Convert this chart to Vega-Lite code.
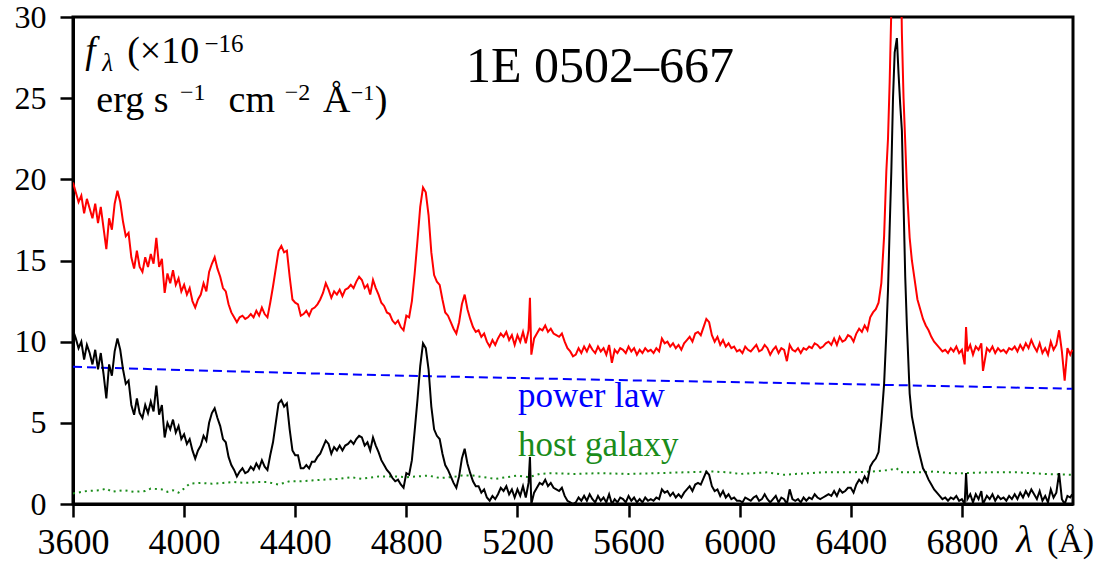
{
  "$schema": "https://vega.github.io/schema/vega-lite/v6.json",
  "width": 1000,
  "height": 487,
  "autosize": {"type": "none"},
  "padding": {"left": 73, "top": 17, "right": 32, "bottom": 61},
  "background": "white",
  "config": {
    "view": {"stroke": "black", "strokeWidth": 3},
    "text": {"font": "Liberation Serif", "color": "black"}
  },
  "datasets": {
    "spec": [
      {"w":3600,"red":19.8,"black":10.7},{"w":3610,"red":19.2,"black":10.2},{"w":3620,"red":18.6,"black":9.6},{"w":3630,"red":19.0,"black":10.0},
      {"w":3640,"red":17.9,"black":8.9},{"w":3650,"red":18.8,"black":9.8},{"w":3660,"red":18.2,"black":9.3},{"w":3670,"red":17.6,"black":8.6},
      {"w":3680,"red":18.5,"black":9.5},{"w":3690,"red":17.3,"black":8.3},{"w":3700,"red":18.3,"black":9.3},{"w":3710,"red":17.0,"black":8.0},
      {"w":3720,"red":15.7,"black":6.5},{"w":3730,"red":17.6,"black":8.6},{"w":3740,"red":16.9,"black":7.9},{"w":3750,"red":18.5,"black":9.4},
      {"w":3760,"red":19.3,"black":10.2},{"w":3770,"red":18.6,"black":9.5},{"w":3780,"red":17.4,"black":8.3},{"w":3790,"red":16.5,"black":7.4},
      {"w":3800,"red":16.7,"black":7.6},{"w":3810,"red":15.2,"black":6.1},{"w":3820,"red":14.5,"black":5.5},{"w":3830,"red":15.6,"black":6.5},
      {"w":3840,"red":14.6,"black":5.6},{"w":3850,"red":14.3,"black":5.3},{"w":3860,"red":15.2,"black":6.1},{"w":3870,"red":14.6,"black":5.6},
      {"w":3880,"red":15.4,"black":6.3},{"w":3890,"red":14.8,"black":5.7},{"w":3900,"red":16.4,"black":7.3},{"w":3910,"red":14.6,"black":5.5},
      {"w":3920,"red":15.1,"black":6.1},{"w":3930,"red":13.0,"black":4.1},{"w":3940,"red":14.2,"black":5.0},{"w":3950,"red":13.6,"black":4.6},
      {"w":3960,"red":14.4,"black":5.2},{"w":3970,"red":13.5,"black":4.4},{"w":3980,"red":13.9,"black":4.8},{"w":3990,"red":13.1,"black":4.0},
      {"w":4000,"red":13.5,"black":4.3},{"w":4010,"red":12.9,"black":3.7},{"w":4020,"red":13.3,"black":4.0},{"w":4030,"red":12.5,"black":3.3},
      {"w":4040,"red":12.1,"black":2.8},{"w":4050,"red":12.6,"black":3.3},{"w":4060,"red":12.9,"black":3.6},{"w":4070,"red":13.6,"black":4.2},
      {"w":4080,"red":13.1,"black":3.9},{"w":4090,"red":14.3,"black":5.0},{"w":4100,"red":14.8,"black":5.6},{"w":4110,"red":15.2,"black":5.9},
      {"w":4120,"red":14.5,"black":5.3},{"w":4130,"red":14.0,"black":4.8},{"w":4140,"red":13.3,"black":4.0},{"w":4150,"red":13.1,"black":3.8},
      {"w":4160,"red":12.3,"black":2.9},{"w":4170,"red":11.8,"black":2.4},{"w":4180,"red":11.5,"black":2.1},{"w":4190,"red":11.2,"black":1.7},
      {"w":4200,"red":11.5,"black":2.0},{"w":4210,"red":11.6,"black":2.2},{"w":4220,"red":11.4,"black":1.9},{"w":4230,"red":11.5,"black":2.0},
      {"w":4240,"red":11.7,"black":2.3},{"w":4250,"red":11.5,"black":2.1},{"w":4260,"red":11.9,"black":2.5},{"w":4270,"red":11.6,"black":2.2},
      {"w":4280,"red":12.1,"black":2.7},{"w":4290,"red":11.7,"black":2.3},{"w":4300,"red":11.5,"black":2.1},{"w":4310,"red":12.4,"black":3.0},
      {"w":4320,"red":13.4,"black":3.8},{"w":4330,"red":14.5,"black":5.0},{"w":4340,"red":15.6,"black":6.2},{"w":4350,"red":15.9,"black":6.4},
      {"w":4360,"red":15.5,"black":6.0},{"w":4370,"red":15.6,"black":6.2},{"w":4380,"red":14.0,"black":4.6},{"w":4390,"red":12.6,"black":3.3},
      {"w":4400,"red":12.4,"black":3.0},{"w":4410,"red":12.3,"black":3.0},{"w":4420,"red":11.6,"black":2.2},{"w":4430,"red":11.7,"black":2.2},
      {"w":4440,"red":11.9,"black":2.4},{"w":4450,"red":11.6,"black":2.2},{"w":4460,"red":12.0,"black":2.6},{"w":4470,"red":12.1,"black":2.6},
      {"w":4480,"red":12.3,"black":2.9},{"w":4490,"red":12.6,"black":3.1},{"w":4500,"red":13.0,"black":3.5},{"w":4510,"red":13.6,"black":3.9},
      {"w":4520,"red":13.2,"black":3.7},{"w":4530,"red":12.7,"black":3.1},{"w":4540,"red":13.1,"black":3.5},{"w":4550,"red":12.9,"black":3.3},
      {"w":4560,"red":13.2,"black":3.6},{"w":4570,"red":12.8,"black":3.3},{"w":4580,"red":13.2,"black":3.6},{"w":4590,"red":13.3,"black":3.7},
      {"w":4600,"red":13.5,"black":3.9},{"w":4610,"red":13.3,"black":3.7},{"w":4620,"red":13.7,"black":4.0},{"w":4630,"red":14.0,"black":4.2},
      {"w":4640,"red":13.8,"black":4.1},{"w":4650,"red":13.3,"black":3.6},{"w":4660,"red":13.5,"black":3.8},{"w":4670,"red":12.9,"black":3.3},
      {"w":4680,"red":13.8,"black":4.1},{"w":4690,"red":13.3,"black":3.6},{"w":4700,"red":12.9,"black":3.2},{"w":4710,"red":12.4,"black":2.7},
      {"w":4720,"red":12.2,"black":2.4},{"w":4730,"red":11.8,"black":2.1},{"w":4740,"red":11.7,"black":1.9},{"w":4750,"red":11.3,"black":1.6},
      {"w":4760,"red":11.1,"black":1.4},{"w":4770,"red":11.3,"black":1.5},{"w":4780,"red":10.9,"black":1.2},{"w":4790,"red":10.7,"black":1.0},
      {"w":4800,"red":11.6,"black":1.9},{"w":4810,"red":11.5,"black":1.8},{"w":4820,"red":12.5,"black":2.7},{"w":4830,"red":14.2,"black":4.5},
      {"w":4840,"red":16.2,"black":6.4},{"w":4850,"red":18.3,"black":8.5},{"w":4860,"red":19.5,"black":9.9},{"w":4870,"red":19.2,"black":9.6},
      {"w":4880,"red":17.8,"black":8.3},{"w":4890,"red":15.5,"black":6.0},{"w":4900,"red":14.1,"black":4.6},{"w":4910,"red":13.7,"black":4.2},
      {"w":4920,"red":13.5,"black":4.0},{"w":4930,"red":12.6,"black":3.1},{"w":4940,"red":11.8,"black":2.4},{"w":4950,"red":11.6,"black":2.1},
      {"w":4960,"red":11.2,"black":1.7},{"w":4970,"red":10.8,"black":1.3},{"w":4980,"red":10.5,"black":1.0},{"w":4990,"red":11.2,"black":1.7},
      {"w":5000,"red":12.3,"black":2.8},{"w":5010,"red":12.9,"black":3.4},{"w":5020,"red":12.0,"black":2.5},{"w":5030,"red":11.4,"black":1.9},
      {"w":5040,"red":10.9,"black":1.4},{"w":5050,"red":10.6,"black":1.1},{"w":5060,"red":10.7,"black":1.1},{"w":5070,"red":10.3,"black":0.7},
      {"w":5080,"red":10.5,"black":0.9},{"w":5090,"red":10.0,"black":0.4},{"w":5100,"red":9.7,"black":0.2},{"w":5110,"red":10.1,"black":0.5},
      {"w":5120,"red":9.8,"black":0.3},{"w":5130,"red":10.2,"black":0.6},{"w":5140,"red":10.5,"black":1.0},{"w":5150,"red":10.3,"black":0.8},
      {"w":5160,"red":10.6,"black":1.1},{"w":5170,"red":10.1,"black":0.6},{"w":5180,"red":10.4,"black":0.9},{"w":5190,"red":9.8,"black":0.4},
      {"w":5200,"red":10.4,"black":0.9},{"w":5210,"red":10.0,"black":0.5},{"w":5220,"red":10.6,"black":1.1},{"w":5230,"red":9.9,"black":0.4},
      {"w":5240,"red":10.7,"black":1.3},{"w":5245,"red":12.7,"black":2.9},{"w":5250,"red":9.2,"black":0.0},{"w":5260,"red":10.2,"black":0.7},
      {"w":5270,"red":10.5,"black":1.0},{"w":5280,"red":10.8,"black":1.3},{"w":5290,"red":10.7,"black":1.2},{"w":5300,"red":11.0,"black":1.5},
      {"w":5310,"red":10.6,"black":1.1},{"w":5320,"red":10.8,"black":1.3},{"w":5330,"red":10.5,"black":1.0},{"w":5340,"red":10.4,"black":0.9},
      {"w":5350,"red":10.3,"black":0.8},{"w":5360,"red":10.5,"black":1.0},{"w":5370,"red":10.0,"black":0.5},{"w":5380,"red":9.6,"black":0.2},
      {"w":5390,"red":9.4,"black":0.1},{"w":5400,"red":9.1,"black":0.0},{"w":5410,"red":9.2,"black":0.1},{"w":5420,"red":9.6,"black":0.4},
      {"w":5430,"red":9.3,"black":0.2},{"w":5440,"red":9.7,"black":0.5},{"w":5450,"red":9.4,"black":0.2},{"w":5460,"red":9.8,"black":0.6},
      {"w":5470,"red":9.5,"black":0.3},{"w":5480,"red":9.3,"black":0.1},{"w":5490,"red":9.7,"black":0.5},{"w":5500,"red":9.4,"black":0.2},
      {"w":5510,"red":9.6,"black":0.4},{"w":5520,"red":9.2,"black":0.1},{"w":5530,"red":9.8,"black":0.6},{"w":5540,"red":8.7,"black":0.0},
      {"w":5550,"red":9.5,"black":0.3},{"w":5560,"red":9.3,"black":0.1},{"w":5570,"red":9.6,"black":0.4},{"w":5580,"red":9.5,"black":0.3},
      {"w":5590,"red":9.3,"black":0.1},{"w":5600,"red":9.7,"black":0.5},{"w":5610,"red":9.4,"black":0.2},{"w":5620,"red":9.6,"black":0.4},
      {"w":5630,"red":9.2,"black":0.1},{"w":5640,"red":9.5,"black":0.3},{"w":5650,"red":9.3,"black":0.1},{"w":5660,"red":9.6,"black":0.4},
      {"w":5670,"red":9.4,"black":0.2},{"w":5680,"red":9.5,"black":0.3},{"w":5690,"red":9.3,"black":0.2},{"w":5700,"red":9.6,"black":0.4},
      {"w":5710,"red":9.4,"black":0.3},{"w":5720,"red":10.2,"black":0.9},{"w":5730,"red":9.9,"black":0.7},{"w":5740,"red":10.0,"black":0.8},
      {"w":5750,"red":9.7,"black":0.5},{"w":5760,"red":9.9,"black":0.7},{"w":5770,"red":9.6,"black":0.4},{"w":5780,"red":9.8,"black":0.6},
      {"w":5790,"red":9.5,"black":0.4},{"w":5800,"red":9.9,"black":0.7},{"w":5810,"red":10.1,"black":0.9},{"w":5820,"red":10.3,"black":1.1},
      {"w":5830,"red":10.0,"black":0.8},{"w":5840,"red":10.5,"black":1.2},{"w":5850,"red":10.6,"black":1.3},{"w":5860,"red":10.4,"black":1.2},
      {"w":5870,"red":10.9,"black":1.6},{"w":5880,"red":11.4,"black":2.0},{"w":5890,"red":11.2,"black":1.8},{"w":5900,"red":10.4,"black":1.1},
      {"w":5910,"red":10.0,"black":0.8},{"w":5920,"red":10.3,"black":0.9},{"w":5930,"red":9.8,"black":0.5},{"w":5940,"red":10.1,"black":0.8},
      {"w":5950,"red":9.7,"black":0.4},{"w":5960,"red":9.9,"black":0.6},{"w":5970,"red":9.6,"black":0.3},{"w":5980,"red":9.7,"black":0.4},
      {"w":5990,"red":9.4,"black":0.2},{"w":6000,"red":9.5,"black":0.2},{"w":6010,"red":9.3,"black":0.1},{"w":6020,"red":9.7,"black":0.4},
      {"w":6030,"red":9.5,"black":0.3},{"w":6040,"red":9.4,"black":0.2},{"w":6050,"red":9.6,"black":0.4},{"w":6060,"red":9.8,"black":0.5},
      {"w":6070,"red":9.4,"black":0.2},{"w":6080,"red":9.5,"black":0.3},{"w":6090,"red":9.8,"black":0.6},{"w":6100,"red":9.6,"black":0.3},
      {"w":6110,"red":9.2,"black":0.1},{"w":6120,"red":9.5,"black":0.3},{"w":6130,"red":9.7,"black":0.5},{"w":6140,"red":9.3,"black":0.1},
      {"w":6150,"red":9.6,"black":0.4},{"w":6160,"red":9.5,"black":0.3},{"w":6170,"red":8.8,"black":0.0},{"w":6180,"red":9.8,"black":0.9},
      {"w":6190,"red":9.5,"black":0.3},{"w":6200,"red":9.4,"black":0.2},{"w":6210,"red":9.6,"black":0.3},{"w":6220,"red":9.3,"black":0.1},
      {"w":6230,"red":9.6,"black":0.4},{"w":6240,"red":9.5,"black":0.2},{"w":6250,"red":9.7,"black":0.4},{"w":6260,"red":9.6,"black":0.3},
      {"w":6270,"red":9.9,"black":0.6},{"w":6280,"red":9.8,"black":0.4},{"w":6290,"red":9.6,"black":0.3},{"w":6300,"red":9.7,"black":0.4},
      {"w":6310,"red":9.9,"black":0.5},{"w":6320,"red":10.0,"black":0.6},{"w":6330,"red":9.8,"black":0.5},{"w":6340,"red":10.2,"black":0.8},
      {"w":6350,"red":9.8,"black":0.5},{"w":6360,"red":10.3,"black":0.9},{"w":6370,"red":10.0,"black":0.7},{"w":6380,"red":10.1,"black":0.8},
      {"w":6390,"red":10.4,"black":1.0},{"w":6400,"red":10.3,"black":1.0},{"w":6410,"red":10.0,"black":0.7},{"w":6420,"red":10.5,"black":1.2},
      {"w":6430,"red":10.8,"black":1.5},{"w":6440,"red":10.6,"black":1.3},{"w":6450,"red":11.0,"black":1.7},{"w":6460,"red":10.7,"black":1.4},
      {"w":6470,"red":11.5,"black":2.3},{"w":6480,"red":11.8,"black":2.6},{"w":6490,"red":12.0,"black":2.8},{"w":6500,"red":12.4,"black":3.2},
      {"w":6510,"red":13.6,"black":5.1},{"w":6520,"red":16.5,"black":7.4},{"w":6528,"red":20.5,"black":10.5},{"w":6534,"red":22.5,"black":13.2},
      {"w":6540,"red":26.0,"black":17.0},{"w":6546,"red":30.5,"black":20.5},{"w":6552,"red":36.0,"black":25.0},{"w":6558,"red":42.0,"black":27.8},
      {"w":6566,"red":45.0,"black":28.7},{"w":6572,"red":42.0,"black":26.5},{"w":6578,"red":36.0,"black":24.6},{"w":6584,"red":29.0,"black":23.0},
      {"w":6590,"red":25.0,"black":18.5},{"w":6596,"red":22.3,"black":14.0},{"w":6602,"red":19.5,"black":11.0},{"w":6612,"red":16.4,"black":6.8},
      {"w":6620,"red":15.0,"black":5.4},{"w":6630,"red":13.8,"black":4.5},{"w":6640,"red":12.6,"black":3.6},{"w":6650,"red":12.0,"black":2.9},
      {"w":6660,"red":11.4,"black":2.2},{"w":6670,"red":11.0,"black":1.9},{"w":6680,"red":10.7,"black":1.5},{"w":6690,"red":10.3,"black":1.2},
      {"w":6700,"red":10.0,"black":0.9},{"w":6710,"red":9.8,"black":0.7},{"w":6720,"red":9.6,"black":0.5},{"w":6730,"red":9.4,"black":0.3},
      {"w":6740,"red":9.5,"black":0.4},{"w":6750,"red":9.3,"black":0.2},{"w":6760,"red":9.6,"black":0.4},{"w":6770,"red":9.4,"black":0.3},
      {"w":6780,"red":9.7,"black":0.5},{"w":6790,"red":9.3,"black":0.2},{"w":6800,"red":9.5,"black":0.3},{"w":6810,"red":8.6,"black":0.0},
      {"w":6815,"red":10.9,"black":1.9},{"w":6820,"red":9.4,"black":0.3},{"w":6830,"red":9.8,"black":0.6},{"w":6840,"red":9.2,"black":0.1},
      {"w":6850,"red":9.7,"black":0.6},{"w":6860,"red":9.5,"black":0.3},{"w":6870,"red":9.9,"black":0.8},{"w":6876,"red":8.2,"black":0.0},
      {"w":6890,"red":9.6,"black":0.5},{"w":6900,"red":9.4,"black":0.3},{"w":6910,"red":9.7,"black":0.6},{"w":6920,"red":9.3,"black":0.2},
      {"w":6930,"red":9.6,"black":0.5},{"w":6940,"red":9.4,"black":0.3},{"w":6950,"red":9.5,"black":0.4},{"w":6960,"red":9.3,"black":0.2},
      {"w":6970,"red":9.6,"black":0.5},{"w":6980,"red":9.5,"black":0.3},{"w":6990,"red":9.7,"black":0.6},{"w":7000,"red":9.4,"black":0.3},
      {"w":7010,"red":9.8,"black":0.7},{"w":7020,"red":9.5,"black":0.4},{"w":7030,"red":9.9,"black":0.8},{"w":7040,"red":9.6,"black":0.5},
      {"w":7050,"red":10.1,"black":0.9},{"w":7060,"red":9.7,"black":0.6},{"w":7070,"red":9.4,"black":0.3},{"w":7080,"red":9.9,"black":0.8},
      {"w":7090,"red":9.3,"black":0.2},{"w":7100,"red":9.6,"black":0.5},{"w":7110,"red":9.2,"black":0.1},{"w":7120,"red":10.0,"black":0.9},
      {"w":7130,"red":9.5,"black":0.4},{"w":7140,"red":9.8,"black":0.7},{"w":7150,"red":10.7,"black":1.9},{"w":7160,"red":9.4,"black":0.3},
      {"w":7170,"red":7.6,"black":0.0},{"w":7180,"red":9.6,"black":0.5},{"w":7190,"red":9.2,"black":0.4},{"w":7197,"red":9.5,"black":0.6}
    ],
    "pl": [
      {"w":3600,"f":8.45},{"w":4000,"f":8.25},{"w":4400,"f":8.07},{"w":4800,"f":7.9},{"w":5200,"f":7.76},
      {"w":5600,"f":7.62},{"w":6000,"f":7.5},{"w":6400,"f":7.38},{"w":6800,"f":7.24},{"w":7197,"f":7.1}
    ],
    "host": [
      {"w":3600,"f":0.65},{"w":3650,"f":0.8},{"w":3700,"f":0.85},{"w":3720,"f":0.95},{"w":3740,"f":0.75},{"w":3780,"f":0.85},
      {"w":3820,"f":0.75},{"w":3860,"f":0.8},{"w":3880,"f":0.95},{"w":3920,"f":0.9},{"w":3940,"f":0.75},{"w":3960,"f":0.85},
      {"w":3980,"f":0.7},{"w":4000,"f":0.95},{"w":4020,"f":1.25},{"w":4060,"f":1.3},{"w":4100,"f":1.25},{"w":4140,"f":1.3},
      {"w":4180,"f":1.35},{"w":4220,"f":1.3},{"w":4260,"f":1.35},{"w":4300,"f":1.35},{"w":4340,"f":1.2},{"w":4380,"f":1.4},
      {"w":4420,"f":1.4},{"w":4460,"f":1.45},{"w":4500,"f":1.5},{"w":4560,"f":1.55},{"w":4600,"f":1.65},{"w":4640,"f":1.55},
      {"w":4700,"f":1.7},{"w":4760,"f":1.7},{"w":4800,"f":1.65},{"w":4840,"f":1.7},{"w":4880,"f":1.75},{"w":4920,"f":1.6},
      {"w":4960,"f":1.65},{"w":5000,"f":1.75},{"w":5040,"f":1.75},{"w":5080,"f":1.65},{"w":5120,"f":1.55},{"w":5160,"f":1.65},
      {"w":5200,"f":1.75},{"w":5240,"f":1.65},{"w":5280,"f":1.85},{"w":5320,"f":1.9},{"w":5400,"f":1.85},{"w":5500,"f":1.9},
      {"w":5600,"f":1.85},{"w":5700,"f":1.9},{"w":5800,"f":1.95},{"w":5900,"f":2.0},{"w":5960,"f":1.95},{"w":6000,"f":1.85},
      {"w":6100,"f":1.95},{"w":6160,"f":1.8},{"w":6200,"f":1.85},{"w":6300,"f":1.95},{"w":6400,"f":1.95},{"w":6480,"f":2.0},
      {"w":6540,"f":2.1},{"w":6565,"f":2.2},{"w":6580,"f":1.95},{"w":6640,"f":1.95},{"w":6700,"f":2.0},{"w":6760,"f":1.9},
      {"w":6800,"f":1.9},{"w":6900,"f":1.95},{"w":7000,"f":1.95},{"w":7100,"f":1.85},{"w":7197,"f":1.8}
    ]
  },
  "layer": [
    {
      "data": {"name": "host"},
      "mark": {"type": "line", "color": "#1a8c1a", "strokeWidth": 2, "strokeDash": [2, 4], "clip": true},
      "encoding": {
        "x": {"field": "w", "type": "quantitative", "title": null,
          "scale": {"domain": [3600, 7200], "nice": false, "zero": false},
          "axis": {"values": [3600, 4000, 4400, 4800, 5200, 5600, 6000, 6400, 6800], "format": "d", "grid": false,
            "domainColor": "black", "domainWidth": 3, "tickColor": "black", "tickWidth": 2.5, "tickSize": 13,
            "labelFont": "Liberation Serif", "labelFontSize": 36, "labelColor": "black", "labelPadding": 8, "labelFlush": false, "labelOverlap": false}},
        "y": {"field": "f", "type": "quantitative", "title": null,
          "scale": {"domain": [0, 30], "nice": false},
          "axis": {"values": [0, 5, 10, 15, 20, 25, 30], "format": "d", "grid": false,
            "domainColor": "black", "domainWidth": 3, "tickColor": "black", "tickWidth": 2.5, "tickSize": 13,
            "labelFont": "Liberation Serif", "labelFontSize": 32, "labelColor": "black", "labelPadding": 14, "labelFlush": false, "labelOverlap": false}}
      }
    },
    {
      "data": {"name": "pl"},
      "mark": {"type": "line", "color": "#0000ff", "strokeWidth": 2, "strokeDash": [9, 5], "clip": true},
      "encoding": {
        "x": {"field": "w", "type": "quantitative", "title": null},
        "y": {"field": "f", "type": "quantitative", "title": null}
      }
    },
    {
      "data": {"name": "spec"},
      "mark": {"type": "line", "color": "#ff0000", "strokeWidth": 2, "clip": true},
      "encoding": {
        "x": {"field": "w", "type": "quantitative", "title": null},
        "y": {"field": "red", "type": "quantitative", "title": null}
      }
    },
    {
      "data": {"name": "spec"},
      "mark": {"type": "line", "color": "#000000", "strokeWidth": 2, "clip": true},
      "encoding": {
        "x": {"field": "w", "type": "quantitative", "title": null},
        "y": {"field": "black", "type": "quantitative", "title": null}
      }
    },
    {"data": {"values": [{}]}, "mark": {"type": "text", "fontSize": 50, "align": "center", "baseline": "alphabetic"},
      "encoding": {"x": {"datum": 5497}, "y": {"datum": 25.97}, "text": {"value": "1E 0502–667"}}},
    {"data": {"values": [{}]}, "mark": {"type": "text", "fontSize": 37, "fontStyle": "italic", "align": "left", "baseline": "alphabetic"},
      "encoding": {"x": {"datum": 3644}, "y": {"datum": 27.15}, "text": {"value": "f"}}},
    {"data": {"values": [{}]}, "mark": {"type": "text", "fontSize": 25, "fontStyle": "italic", "align": "left", "baseline": "alphabetic"},
      "encoding": {"x": {"datum": 3705}, "y": {"datum": 26.65}, "text": {"value": "λ"}}},
    {"data": {"values": [{}]}, "mark": {"type": "text", "fontSize": 38, "align": "left", "baseline": "alphabetic"},
      "encoding": {"x": {"datum": 3795}, "y": {"datum": 27.15}, "text": {"value": "(×10"}}},
    {"data": {"values": [{}]}, "mark": {"type": "text", "fontSize": 25, "align": "left", "baseline": "alphabetic"},
      "encoding": {"x": {"datum": 4073}, "y": {"datum": 27.84}, "text": {"value": "−16"}}},
    {"data": {"values": [{}]}, "mark": {"type": "text", "fontSize": 38, "align": "left", "baseline": "alphabetic"},
      "encoding": {"x": {"datum": 3684}, "y": {"datum": 24.16}, "text": {"value": "erg s"}}},
    {"data": {"values": [{}]}, "mark": {"type": "text", "fontSize": 24, "align": "left", "baseline": "alphabetic"},
      "encoding": {"x": {"datum": 3985}, "y": {"datum": 24.86}, "text": {"value": "−1"}}},
    {"data": {"values": [{}]}, "mark": {"type": "text", "fontSize": 38, "align": "left", "baseline": "alphabetic"},
      "encoding": {"x": {"datum": 4160}, "y": {"datum": 24.16}, "text": {"value": "cm"}}},
    {"data": {"values": [{}]}, "mark": {"type": "text", "fontSize": 24, "align": "left", "baseline": "alphabetic"},
      "encoding": {"x": {"datum": 4362}, "y": {"datum": 24.86}, "text": {"value": "−2"}}},
    {"data": {"values": [{}]}, "mark": {"type": "text", "fontSize": 38, "align": "left", "baseline": "alphabetic"},
      "encoding": {"x": {"datum": 4500}, "y": {"datum": 24.16}, "text": {"value": "Å"}}},
    {"data": {"values": [{}]}, "mark": {"type": "text", "fontSize": 22, "align": "left", "baseline": "alphabetic"},
      "encoding": {"x": {"datum": 4600}, "y": {"datum": 24.86}, "text": {"value": "−1"}}},
    {"data": {"values": [{}]}, "mark": {"type": "text", "fontSize": 38, "align": "left", "baseline": "alphabetic"},
      "encoding": {"x": {"datum": 4686}, "y": {"datum": 24.16}, "text": {"value": ")"}}},
    {"data": {"values": [{}]}, "mark": {"type": "text", "fontSize": 35, "align": "left", "baseline": "alphabetic", "color": "#0000ff"},
      "encoding": {"x": {"datum": 5202}, "y": {"datum": 6.0}, "text": {"value": "power law"}}},
    {"data": {"values": [{}]}, "mark": {"type": "text", "fontSize": 35, "align": "left", "baseline": "alphabetic", "color": "#1a8c1a"},
      "encoding": {"x": {"datum": 5202}, "y": {"datum": 2.98}, "text": {"value": "host galaxy"}}},
    {"data": {"values": [{}]}, "mark": {"type": "text", "fontSize": 38, "fontStyle": "italic", "align": "center", "baseline": "alphabetic"},
      "encoding": {"x": {"datum": 7025}, "y": {"datum": -2.98}, "text": {"value": "λ"}}},
    {"data": {"values": [{}]}, "mark": {"type": "text", "fontSize": 34, "align": "center", "baseline": "alphabetic"},
      "encoding": {"x": {"datum": 7191}, "y": {"datum": -2.98}, "text": {"value": "(Å)"}}}
  ]
}
